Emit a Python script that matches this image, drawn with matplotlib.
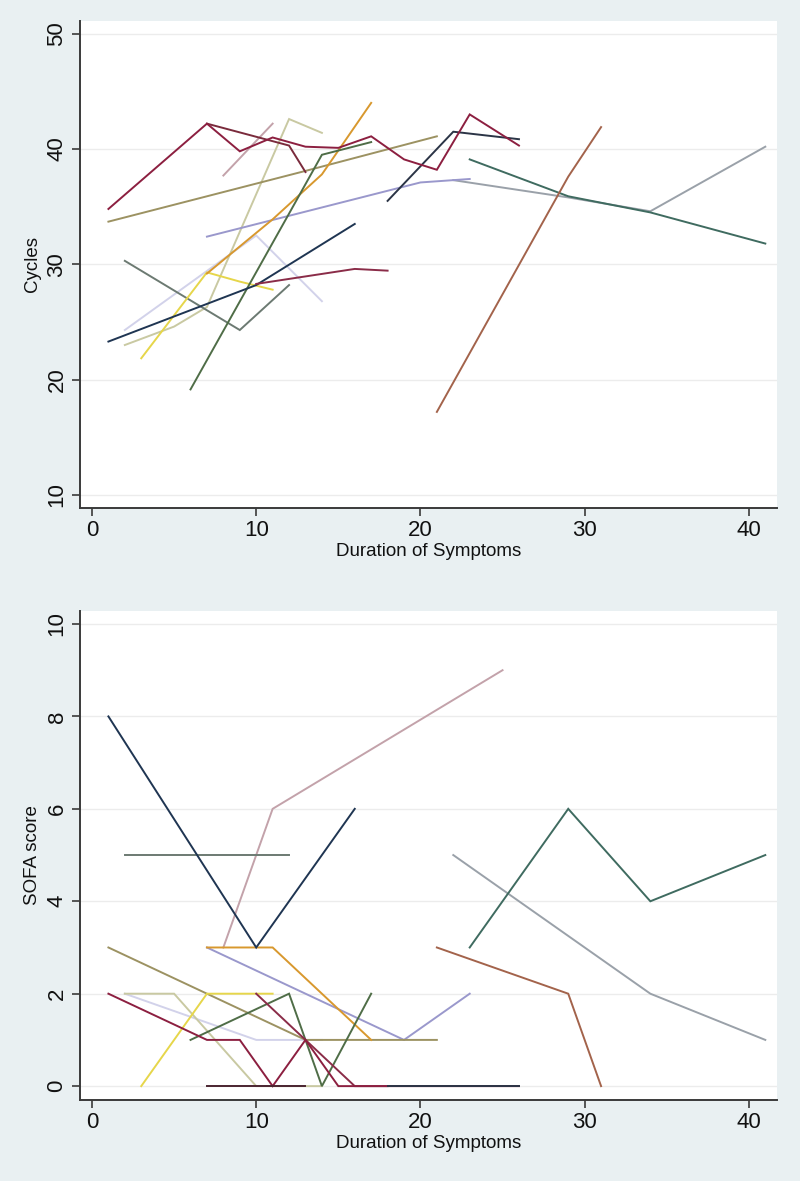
import matplotlib
matplotlib.use("Agg")
import matplotlib.pyplot as plt

# ---------------- data: Cycles vs duration of symptoms (top panel) ----------------
c_navy_x   = [1, 10, 16];                 c_navy_y   = [23.3, 28.2, 33.5]
c_maroon_x = [1, 7, 9, 11, 13, 15, 17, 19, 21, 23, 26]
c_maroon_y = [34.8, 42.2, 39.8, 41.0, 40.2, 40.1, 41.1, 39.1, 38.2, 43.0, 40.3]
c_maroon2_x = [7, 12, 13];                c_maroon2_y = [42.2, 40.3, 38.0]
c_maroon3_x = [10, 16, 18];               c_maroon3_y = [28.3, 29.6, 29.45]
c_olive_x  = [1, 13, 21];                 c_olive_y  = [33.7, 38.1, 41.1]
c_khaki_x  = [2, 5, 7, 12, 14];           c_khaki_y  = [23.0, 24.6, 26.3, 42.6, 41.4]
c_faint_x  = [2, 10, 14];                 c_faint_y  = [24.3, 32.5, 26.8]
c_yellow_x = [3, 7, 9, 11];               c_yellow_y = [21.85, 29.3, 28.5, 27.8]
c_orange_x = [7, 11, 14, 17];             c_orange_y = [29.2, 33.9, 37.8, 44.0]
c_green_x  = [6, 12, 14, 17];             c_green_y  = [19.15, 34.4, 39.5, 40.6]
c_grayteal_x = [2, 9, 12];                c_grayteal_y = [30.3, 24.3, 28.2]
c_lav_x    = [7, 20, 23];                 c_lav_y    = [32.4, 37.1, 37.4]
c_gray_x   = [22, 29, 34, 41];            c_gray_y   = [37.3, 35.8, 34.6, 40.2]
c_teal_x   = [23, 29, 34, 41];            c_teal_y   = [39.1, 35.9, 34.5, 31.8]
c_navy2_x  = [18, 22, 26];                c_navy2_y  = [35.5, 41.5, 40.85]
c_brown_x  = [21, 29, 31];                c_brown_y  = [17.2, 37.6, 41.9]
c_mauve_x  = [8, 11];                     c_mauve_y  = [37.7, 42.2]

# ---------------- data: SOFA score vs duration of symptoms (bottom panel) ----------------
s_navy_x   = [1, 10, 16];                 s_navy_y   = [8, 3, 6]
s_maroon_x = [1, 7, 9, 11, 13, 15, 26];   s_maroon_y = [2, 1, 1, 0, 1, 0, 0]
s_maroon2_x = [7, 12, 13];                s_maroon2_y = [0, 0, 0]
s_maroon3_x = [10, 16, 18];               s_maroon3_y = [2, 0, 0]
s_olive_x  = [1, 13, 21];                 s_olive_y  = [3, 1, 1]
s_khaki_x  = [2, 5, 10, 14];              s_khaki_y  = [2, 2, 0, 0]
s_faint_x  = [2, 10, 14];                 s_faint_y  = [2, 1, 1]
s_yellow_x = [3, 7, 11];                  s_yellow_y = [0, 2, 2]
s_orange_x = [7, 11, 14, 17];             s_orange_y = [3, 3, 2, 1]
s_green_x  = [6, 12, 14, 17];             s_green_y  = [1, 2, 0, 2]
s_grayteal_x = [2, 12];                   s_grayteal_y = [5, 5]
s_lav_x    = [7, 19, 23];                 s_lav_y    = [3, 1, 2]
s_gray_x   = [22, 34, 41];                s_gray_y   = [5, 2, 1]
s_teal_x   = [23, 29, 34, 41];            s_teal_y   = [3, 6, 4, 5]
s_navy2_x  = [18, 22, 26];                s_navy2_y  = [0, 0, 0]
s_brown_x  = [21, 29, 31];                s_brown_y  = [3, 2, 0]
s_mauve_x  = [8, 11, 25];                 s_mauve_y  = [3, 6, 9]

x_ticks = [0, 10, 20, 30, 40]
cyc_ticks = [10, 20, 30, 40, 50]
sofa_ticks = [0, 2, 4, 6, 8, 10]

colors = {
    "navy": "#1f3552", "maroon": "#8c1f40", "maroon2": "#7a2b3c", "maroon2_dark": "#4a2430",
    "maroon3": "#8a2c48",
    "olive": "#9c9262", "khaki": "#c9c9a2", "faint": "#d2d2ea", "yellow": "#e6d64a",
    "orange": "#d8982e", "green": "#4f6d47", "grayteal": "#6c7a72", "lav": "#9a98cc",
    "gray": "#9aa1a9", "teal": "#3f6b60", "navy2": "#2b3446", "brown": "#a3634b",
    "mauve": "#c3a2aa",
}

top_series = [
    ("faint", c_faint_x, c_faint_y), ("khaki", c_khaki_x, c_khaki_y),
    ("mauve", c_mauve_x, c_mauve_y), ("gray", c_gray_x, c_gray_y),
    ("lav", c_lav_x, c_lav_y), ("olive", c_olive_x, c_olive_y),
    ("grayteal", c_grayteal_x, c_grayteal_y), ("yellow", c_yellow_x, c_yellow_y),
    ("orange", c_orange_x, c_orange_y), ("green", c_green_x, c_green_y),
    ("teal", c_teal_x, c_teal_y), ("brown", c_brown_x, c_brown_y),
    ("navy", c_navy_x, c_navy_y), ("navy2", c_navy2_x, c_navy2_y),
    ("maroon3", c_maroon3_x, c_maroon3_y), ("maroon2", c_maroon2_x, c_maroon2_y),
    ("maroon", c_maroon_x, c_maroon_y),
]
bottom_series = [
    ("faint", s_faint_x, s_faint_y), ("khaki", s_khaki_x, s_khaki_y),
    ("mauve", s_mauve_x, s_mauve_y), ("gray", s_gray_x, s_gray_y),
    ("lav", s_lav_x, s_lav_y), ("olive", s_olive_x, s_olive_y),
    ("grayteal", s_grayteal_x, s_grayteal_y), ("yellow", s_yellow_x, s_yellow_y),
    ("orange", s_orange_x, s_orange_y), ("green", s_green_x, s_green_y),
    ("teal", s_teal_x, s_teal_y), ("brown", s_brown_x, s_brown_y),
    ("navy", s_navy_x, s_navy_y), ("maroon3", s_maroon3_x, s_maroon3_y),
    ("maroon", s_maroon_x, s_maroon_y), ("navy2", s_navy2_x, s_navy2_y),
    ("maroon2_dark", s_maroon2_x, s_maroon2_y),
]

plt.rcParams["font.family"] = ["Liberation Sans", "DejaVu Sans"]
BG = "#e9f0f2"

fig = plt.figure(figsize=(8, 11.81), dpi=100, facecolor=BG)
ax1 = fig.add_axes([0.100, 0.5699, 0.871, 0.4123])
ax2 = fig.add_axes([0.100, 0.0686, 0.871, 0.4140])


def style(ax, yticks, ylim, ylabel):
    ax.set_facecolor("white")
    ax.set_xlim(-0.73, 41.7)
    ax.set_ylim(*ylim)
    ax.set_xticks(x_ticks)
    ax.set_yticks(yticks)
    for s in ("top", "right"):
        ax.spines[s].set_visible(False)
    for s in ("left", "bottom"):
        ax.spines[s].set_color("#3a3a3a")
        ax.spines[s].set_linewidth(1.4)
    ax.tick_params(axis="both", direction="out", length=6, width=1.2,
                   color="#3a3a3a", labelsize=16, labelcolor="#111111", pad=3)
    for lab in ax.get_yticklabels():
        lab.set_rotation(90)
        lab.set_va("center")
    ax.grid(axis="y", color="#ececec", linewidth=1.0)
    ax.set_axisbelow(True)
    ax.set_xlabel("Duration of Symptoms", fontsize=13.5, color="#111111", labelpad=1)
    ax.set_ylabel(ylabel, fontsize=13.5, color="#111111", labelpad=4)


style(ax1, cyc_ticks, (8.87, 51.1), "Cycles")
style(ax2, sofa_ticks, (-0.30, 10.28), "SOFA score")

for name, xs, ys in top_series:
    ax1.plot(xs, ys, color=colors[name], lw=1.4, solid_joinstyle="miter")
for name, xs, ys in bottom_series:
    ax2.plot(xs, ys, color=colors[name], lw=1.4, solid_joinstyle="miter")

fig.savefig("out.png", dpi=100, facecolor=BG)
